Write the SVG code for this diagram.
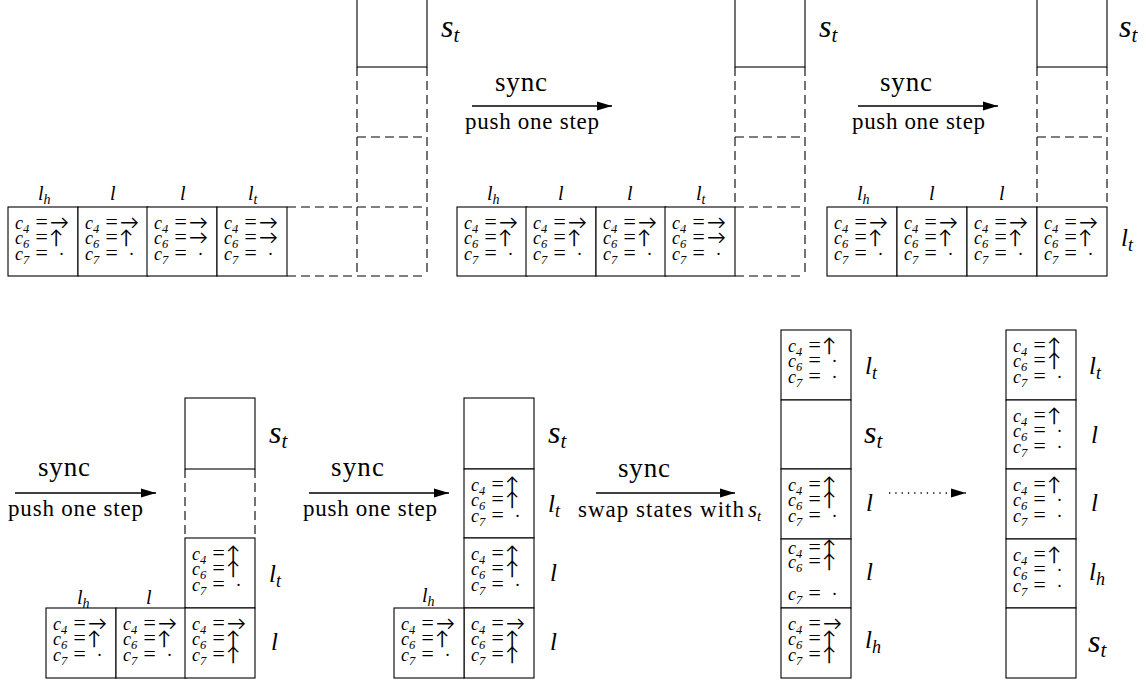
<svg xmlns="http://www.w3.org/2000/svg" width="1146" height="683" viewBox="0 0 1146 683">
<defs>
<marker id="ah" markerWidth="16" markerHeight="10" refX="15" refY="5" orient="auto" markerUnits="userSpaceOnUse"><path d="M0,0.5 L15,5 L0,9.5 z" fill="#000"/></marker>
<text id="L4r" font-family="Liberation Serif" font-size="18" fill="#000"><tspan font-style="italic" x="7">c</tspan><tspan font-size="12.5" x="15" dy="4">4</tspan><tspan font-size="22" x="26" dy="-4">=</tspan><tspan font-family="Lato" font-size="19" x="42">→</tspan></text>
<text id="L4u" font-family="Liberation Serif" font-size="18" fill="#000"><tspan font-style="italic" x="7">c</tspan><tspan font-size="12.5" x="15" dy="4">4</tspan><tspan font-size="22" x="26" dy="-4">=</tspan><tspan font-family="Lato" font-size="19" x="41">↑</tspan></text>
<text id="L6r" font-family="Liberation Serif" font-size="18" fill="#000"><tspan font-style="italic" x="7">c</tspan><tspan font-size="12.5" x="15" dy="4">6</tspan><tspan font-size="22" x="26" dy="-4">=</tspan><tspan font-family="Lato" font-size="19" x="42">→</tspan></text>
<text id="L6u" font-family="Liberation Serif" font-size="18" fill="#000"><tspan font-style="italic" x="7">c</tspan><tspan font-size="12.5" x="15" dy="4">6</tspan><tspan font-size="22" x="26" dy="-4">=</tspan><tspan font-family="Lato" font-size="19" x="41">↑</tspan></text>
<text id="L6d" font-family="Liberation Serif" font-size="18" fill="#000"><tspan font-style="italic" x="7">c</tspan><tspan font-size="12.5" x="15" dy="4">6</tspan><tspan font-size="22" x="26" dy="-4">=</tspan><tspan x="51">·</tspan></text>
<text id="L7d" font-family="Liberation Serif" font-size="18" fill="#000"><tspan font-style="italic" x="7">c</tspan><tspan font-size="12.5" x="15" dy="4">7</tspan><tspan font-size="22" x="26" dy="-4">=</tspan><tspan x="51">·</tspan></text>
<text id="L7u" font-family="Liberation Serif" font-size="18" fill="#000"><tspan font-style="italic" x="7">c</tspan><tspan font-size="12.5" x="15" dy="4">7</tspan><tspan font-size="22" x="26" dy="-4">=</tspan><tspan font-family="Lato" font-size="19" x="41">↑</tspan></text>
<g id="A"><use href="#L4r" y="22"/><use href="#L6u" y="37"/><use href="#L7d" y="53"/></g>
<g id="B"><use href="#L4r" y="22"/><use href="#L6r" y="37"/><use href="#L7d" y="53"/></g>
<g id="C"><use href="#L4u" y="22"/><use href="#L6u" y="37"/><use href="#L7d" y="53"/></g>
<g id="D"><use href="#L4r" y="22"/><use href="#L6u" y="37"/><use href="#L7u" y="53"/></g>
<g id="E"><use href="#L4u" y="22"/><use href="#L6d" y="37"/><use href="#L7d" y="53"/></g>
<g id="F"><use href="#L4u" y="15"/><use href="#L6u" y="29"/><use href="#L7d" y="61"/></g>
<rect id="cw" width="70" height="69" fill="#fff" stroke="#000" stroke-width="1.1"/>
<rect id="ch" width="70" height="70" fill="#fff" stroke="#000" stroke-width="1.1"/>
</defs>

<g font-family="Liberation Serif" font-style="italic" fill="#000">
<!-- Panel 1 -->
<g id="p1">
<g id="p1c1"><use href="#cw" x="8" y="207"/><use href="#A" x="8" y="207"/></g>
<g id="p1c2"><use href="#cw" x="78" y="207"/><use href="#A" x="78" y="207"/></g>
<g id="p1c3"><use href="#cw" x="147" y="207"/><use href="#B" x="147" y="207"/></g>
<g id="p1c4"><use href="#cw" x="217" y="207"/><use href="#B" x="217" y="207"/></g>
<g id="p1st"><use href="#cw" x="357" y="-2"/></g>
<g id="p1empty"><path d="M287,207 H427 M287,276 H427 M357,137 H427 M357,67 V276 M427,67 V276" fill="none" stroke="#000" stroke-width="1.1" stroke-dasharray="9 5"/></g>
<text font-size="20" x="38" y="200">l<tspan font-size="14" dy="4">h</tspan></text>
<text font-size="20" x="110" y="200">l</text>
<text font-size="20" x="180" y="200">l</text>
<text font-size="20" x="248" y="200">l<tspan font-size="14" dy="4">t</tspan></text>
<text font-size="32" x="441" y="37">s<tspan font-size="21" dy="5">t</tspan></text>
</g>

<!-- Panel 2 -->
<g id="p2">
<g id="p2c1"><use href="#cw" x="457" y="207"/><use href="#A" x="457" y="207"/></g>
<g id="p2c2"><use href="#cw" x="526" y="207"/><use href="#A" x="526" y="207"/></g>
<g id="p2c3"><use href="#cw" x="596" y="207"/><use href="#A" x="596" y="207"/></g>
<g id="p2c4"><use href="#cw" x="665" y="207"/><use href="#B" x="665" y="207"/></g>
<g id="p2st"><use href="#cw" x="735" y="-2"/></g>
<g id="p2empty"><path d="M735,137 H805 M735,207 H805 M735,276 H805 M735,67 V207 M805,67 V276" fill="none" stroke="#000" stroke-width="1.1" stroke-dasharray="9 5"/></g>
<text font-size="20" x="487" y="200">l<tspan font-size="14" dy="4">h</tspan></text>
<text font-size="20" x="558" y="200">l</text>
<text font-size="20" x="627" y="200">l</text>
<text font-size="20" x="696" y="200">l<tspan font-size="14" dy="4">t</tspan></text>
<text font-size="32" x="819" y="37">s<tspan font-size="21" dy="5">t</tspan></text>
</g>

<!-- Panel 3 -->
<g id="p3">
<g id="p3c1"><use href="#cw" x="827" y="207"/><use href="#A" x="827" y="207"/></g>
<g id="p3c2"><use href="#cw" x="897" y="207"/><use href="#A" x="897" y="207"/></g>
<g id="p3c3"><use href="#cw" x="967" y="207"/><use href="#A" x="967" y="207"/></g>
<g id="p3c4"><use href="#cw" x="1037" y="207"/><use href="#A" x="1037" y="207"/></g>
<g id="p3st"><use href="#cw" x="1037" y="-2"/></g>
<g id="p3empty"><path d="M1037,137 H1107 M1037,67 V207 M1107,67 V207" fill="none" stroke="#000" stroke-width="1.1" stroke-dasharray="9 5"/></g>
<text font-size="20" x="857" y="200">l<tspan font-size="14" dy="4">h</tspan></text>
<text font-size="20" x="929" y="200">l</text>
<text font-size="20" x="999" y="200">l</text>
<text font-size="25" x="1121" y="246">l<tspan font-size="18" dy="5">t</tspan></text>
<text font-size="32" x="1119" y="37">s<tspan font-size="21" dy="5">t</tspan></text>
</g>

<!-- Panel 4 -->
<g id="p4">
<g id="p4st"><rect x="185" y="398" width="70" height="71" fill="#fff" stroke="#000" stroke-width="1.1"/></g>
<g id="p4empty"><path d="M185,469 V538 M255,469 V538" fill="none" stroke="#000" stroke-width="1.1" stroke-dasharray="9 5"/></g>
<g id="p4lt"><use href="#ch" x="185" y="538"/><use href="#C" x="185" y="538"/></g>
<g id="p4c1"><use href="#ch" x="46" y="608"/><use href="#A" x="46" y="608"/></g>
<g id="p4c2"><use href="#ch" x="116" y="608"/><use href="#A" x="116" y="608"/></g>
<g id="p4c3"><use href="#ch" x="185" y="608"/><use href="#D" x="185" y="608"/></g>
<text font-size="20" x="77" y="604">l<tspan font-size="14" dy="4">h</tspan></text>
<text font-size="20" x="146" y="604">l</text>
<text font-size="32" x="269" y="443">s<tspan font-size="21" dy="5">t</tspan></text>
<text font-size="25" x="269" y="582">l<tspan font-size="18" dy="5">t</tspan></text>
<text font-size="25" x="271" y="650">l</text>
</g>

<!-- Panel 5 -->
<g id="p5">
<g id="p5st"><rect x="464" y="398" width="70" height="71" fill="#fff" stroke="#000" stroke-width="1.1"/></g>
<g id="p5lt"><use href="#cw" x="464" y="469"/><use href="#C" x="464" y="469"/></g>
<g id="p5l1"><use href="#ch" x="464" y="538"/><use href="#C" x="464" y="538"/></g>
<g id="p5l2"><use href="#ch" x="464" y="608"/><use href="#D" x="464" y="608"/></g>
<g id="p5lh"><use href="#ch" x="394" y="608"/><use href="#A" x="394" y="608"/></g>
<text font-size="20" x="422" y="602">l<tspan font-size="14" dy="4">h</tspan></text>
<text font-size="32" x="548" y="443">s<tspan font-size="21" dy="5">t</tspan></text>
<text font-size="25" x="548" y="512">l<tspan font-size="18" dy="5">t</tspan></text>
<text font-size="25" x="550" y="581">l</text>
<text font-size="25" x="550" y="650">l</text>
</g>

<!-- Panel 6 -->
<g id="p6">
<g id="p6lt"><use href="#ch" x="781" y="330"/><use href="#E" x="781" y="330"/></g>
<g id="p6st"><use href="#cw" x="781" y="400"/></g>
<g id="p6l1"><use href="#ch" x="781" y="469"/><use href="#C" x="781" y="469"/></g>
<g id="p6l2"><use href="#cw" x="781" y="539"/><use href="#F" x="781" y="539"/></g>
<g id="p6lh"><use href="#ch" x="781" y="608"/><use href="#D" x="781" y="608"/></g>
<text font-size="25" x="865" y="374">l<tspan font-size="18" dy="5">t</tspan></text>
<text font-size="32" x="864" y="443">s<tspan font-size="21" dy="5">t</tspan></text>
<text font-size="25" x="866" y="511">l</text>
<text font-size="25" x="866" y="580">l</text>
<text font-size="25" x="865" y="648">l<tspan font-size="18" dy="5">h</tspan></text>
</g>

<!-- Panel 7 -->
<g id="p7">
<g id="p7lt"><use href="#ch" x="1006" y="330"/><use href="#C" x="1006" y="330"/></g>
<g id="p7l1"><use href="#cw" x="1006" y="400"/><use href="#E" x="1006" y="400"/></g>
<g id="p7l2"><use href="#ch" x="1006" y="469"/><use href="#E" x="1006" y="469"/></g>
<g id="p7lh"><use href="#cw" x="1006" y="539"/><use href="#E" x="1006" y="539"/></g>
<g id="p7st"><use href="#ch" x="1006" y="608"/></g>
<text font-size="25" x="1089" y="374">l<tspan font-size="18" dy="5">t</tspan></text>
<text font-size="25" x="1091" y="443">l</text>
<text font-size="25" x="1091" y="511">l</text>
<text font-size="25" x="1089" y="580">l<tspan font-size="18" dy="5">h</tspan></text>
<text font-size="32" x="1088" y="652">s<tspan font-size="21" dy="5">t</tspan></text>
</g>
</g>

<!-- Connectors -->
<g id="connectors" font-family="Liberation Serif" fill="#000">
<g fill="none" stroke="#000" stroke-width="1.3">
<line x1="472" y1="106" x2="612" y2="106" marker-end="url(#ah)"/>
<line x1="858" y1="106" x2="998" y2="106" marker-end="url(#ah)"/>
<line x1="15" y1="493" x2="156" y2="493" marker-end="url(#ah)"/>
<line x1="309" y1="493" x2="449" y2="493" marker-end="url(#ah)"/>
<line x1="596" y1="493" x2="735" y2="493" marker-end="url(#ah)"/>
<line x1="889" y1="493" x2="966" y2="493" stroke-dasharray="1.3 5" marker-end="url(#ah)"/>
</g>
<text font-size="27" x="495" y="91" textLength="52">sync</text>
<text font-size="23" x="465" y="129" textLength="134">push one step</text>
<text font-size="27" x="880" y="91" textLength="52">sync</text>
<text font-size="23" x="852" y="129" textLength="133">push one step</text>
<text font-size="27" x="38" y="476" textLength="52">sync</text>
<text font-size="23" x="8" y="516" textLength="135">push one step</text>
<text font-size="27" x="331" y="476" textLength="53">sync</text>
<text font-size="23" x="303" y="516" textLength="134">push one step</text>
<text font-size="27" x="618" y="477" textLength="52">sync</text>
<text font-size="23" x="578" y="517" textLength="166">swap states with</text>
<text font-size="23" x="748" y="517" font-style="italic">s<tspan font-size="15" dy="4">t</tspan></text>
</g>
</svg>
